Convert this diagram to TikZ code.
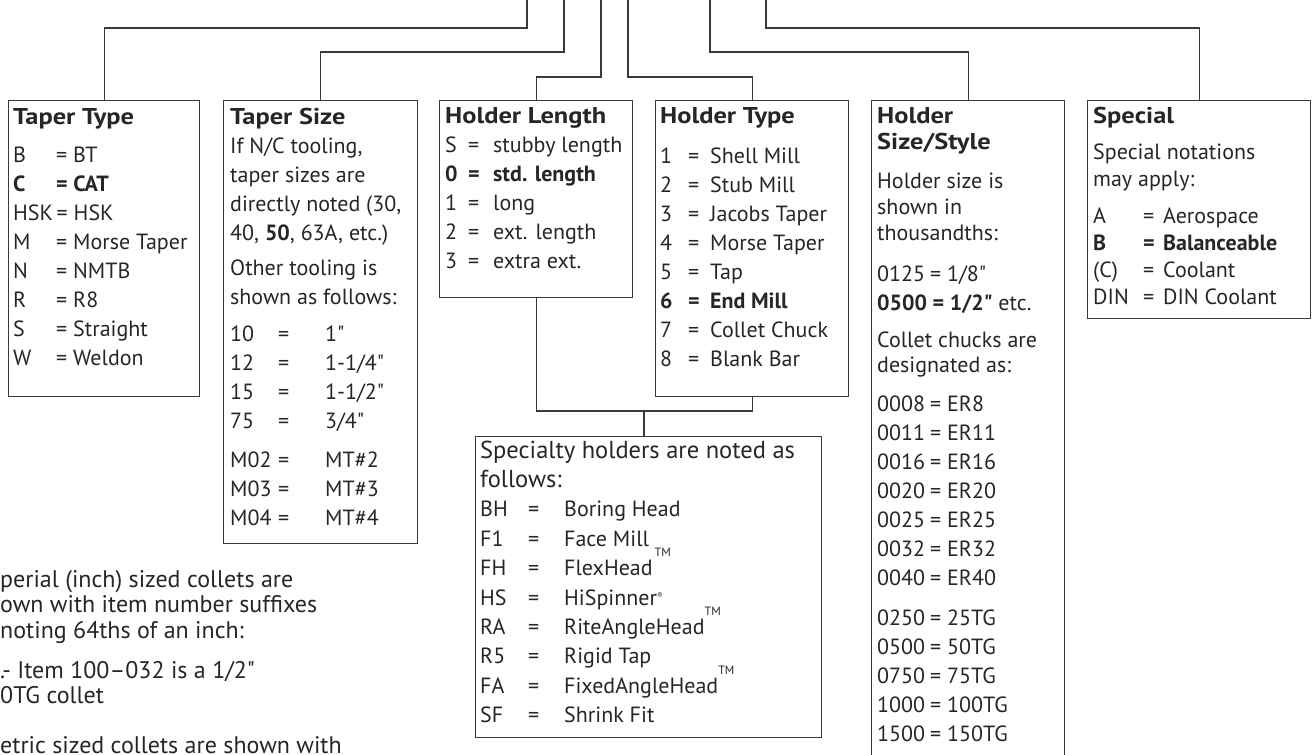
\documentclass[tikz,border=0pt]{standalone}
\usepackage{fontspec}
\setmainfont{PT Sans}[Ligatures=TeXOff]
\usepackage{array}
\usepackage{graphicx}
\usetikzlibrary{calc}

\definecolor{ink}{HTML}{262626}
\definecolor{rulegray}{HTML}{3A3A3A}

\tikzset{
    panel/.style={draw=rulegray, line width=1.2pt, inner sep=0pt, anchor=north west},
    link/.style={draw=rulegray, line width=1.2pt},
    txt/.style={inner sep=0pt, anchor=base west, text=ink, font=\fontsize{22}{29}\selectfont},
}
\newcommand{\headtext}[1]{\scalebox{1.2}[1.04]{\textbf{#1}}}
\newcommand{\tmark}{\smash{\raisebox{19pt}{\fontsize{12}{12}\selectfont TM}}}
\newcommand{\rmark}{\smash{\raisebox{7pt}{\fontsize{8}{8}\selectfont ®}}}

\begin{document}
\begin{tikzpicture}[x=1pt, y=-1pt]
        \useasboundingbox (0,0) rectangle (1312,755);
        \clip (0,0) rectangle (1312,755);

        \node[panel, minimum width=191pt, minimum height=296pt] (tapertype) at (8,100) {};
        \node[panel, minimum width=194pt, minimum height=443pt] (tapersize) at (223,100) {};
        \node[panel, minimum width=193pt, minimum height=197pt] (holderlen) at (439,100) {};
        \node[panel, minimum width=193pt, minimum height=296pt] (holdertype) at (655,100) {};
        \node[panel, minimum width=193pt, minimum height=700pt] (holdersize) at (871,100) {};
        \node[panel, minimum width=223pt, minimum height=218pt] (special) at (1087,100) {};
        \node[panel, minimum width=346pt, minimum height=301pt] (specialty) at (475,436) {};

        \coordinate (tt) at (527,0);
        \coordinate (ts) at (564,0);
        \coordinate (hl) at (601,0);
        \coordinate (ht) at (628,0);
        \coordinate (hs) at (710,0);
        \coordinate (sp) at (766,0);
        \coordinate (bar) at (644,411);

        \draw[link] (tapertype.north) -- ++(0,-72) -| (tt);
        \draw[link] (tapersize.north) -- ++(0,-48) -| (ts);
        \draw[link] (holderlen.north) -- ++(0,-23) -| (hl);
        \draw[link] (holdertype.north) -- ++(0,-23) -| (ht);
        \draw[link] (holdersize.north) -- ++(0,-48) -| (hs);
        \draw[link] (special.north) -- ++(0,-72) -| (sp);
        \draw[link] (holderlen.south) |- (bar) -| (holdertype.south);
        \draw[link] (bar) -- (bar |- specialty.north);

        \node[txt] (tapertypetext) at ($(tapertype.north west)+(5,24)$) {%
            \begin{tabular}[t]{@{}p{43pt}@{}l@{}}
            \multicolumn{2}{@{}l@{}}{\headtext{Taper Type}}\\[9pt]
            B & = BT\\
            \textbf{C} & \textbf{= CAT}\\
            \multicolumn{2}{@{}l@{}}{HSK\,= HSK}\\
            M & = Morse Taper\\
            N & = NMTB\\
            R & = R8\\
            S & = Straight\\
            W & = Weldon
            \end{tabular}};

        \node[txt] (tapersizetext) at ($(tapersize.north west)+(7,24)$) {%
            \begin{tabular}[t]{@{}p{48pt}@{}p{47pt}@{}l@{}}
            \multicolumn{3}{@{}l@{}}{\headtext{Taper Size}}\\
            \multicolumn{3}{@{}l@{}}{If N/C tooling,}\\
            \multicolumn{3}{@{}l@{}}{taper sizes are}\\
            \multicolumn{3}{@{}l@{}}{directly noted (30,}\\
            \multicolumn{3}{@{}l@{}}{40, \textbf{50}, 63A, etc.)}\\[6pt]
            \multicolumn{3}{@{}l@{}}{Other tooling is}\\
            \multicolumn{3}{@{}l@{}}{shown as follows:}\\[8pt]
            10 & = & 1"\\
            12 & = & 1-1/4"\\
            15 & = & 1-1/2"\\
            75 & = & 3/4"\\[10pt]
            M02 & = & MT\#2\\
            M03 & = & MT\#3\\
            M04 & = & MT\#4
            \end{tabular}};

        \node[txt] (holderlentext) at ($(holderlen.north west)+(6,23)$) {%
            \begin{tabular}[t]{@{}p{23pt}@{}p{25pt}@{}l@{}}
            \multicolumn{3}{@{}l@{}}{\headtext{Holder Length}}\\
            S & = & stubby length\\
            \textbf{0} & \textbf{=} & \textbf{std. length}\\
            1 & = & long\\
            2 & = & ext. length\\
            3 & = & extra ext.
            \end{tabular}};

        \node[txt] (holdertypetext) at ($(holdertype.north west)+(5,23)$) {%
            \begin{tabular}[t]{@{}p{28pt}@{}p{22pt}@{}l@{}}
            \multicolumn{3}{@{}l@{}}{\headtext{Holder Type}}\\[11pt]
            1 & = & Shell Mill\\
            2 & = & Stub Mill\\
            3 & = & Jacobs Taper\\
            4 & = & Morse Taper\\
            5 & = & Tap\\
            \textbf{6} & \textbf{=} & \textbf{End Mill}\\
            7 & = & Collet Chuck\\
            8 & = & Blank Bar
            \end{tabular}};

        \node[txt] (holdersizetext) at ($(holdersize.north west)+(6,23)$) {%
            \begin{tabular}[t]{@{}p{53pt}@{}p{17pt}@{}l@{}}
            \multicolumn{3}{@{}l@{}}{\headtext{Holder}}\\[-3pt]
            \multicolumn{3}{@{}l@{}}{\headtext{Size/Style}}\\[10pt]
            \multicolumn{3}{@{}l@{}}{Holder size is}\\[-3pt]
            \multicolumn{3}{@{}l@{}}{shown in}\\[-3pt]
            \multicolumn{3}{@{}l@{}}{thousandths:}\\[12pt]
            0125 & = & 1/8"\\
            \multicolumn{3}{@{}l@{}}{\textbf{0500 = 1/2"} etc.}\\[8pt]
            \multicolumn{3}{@{}l@{}}{Collet chucks are}\\[-4pt]
            \multicolumn{3}{@{}l@{}}{designated as:}\\[10pt]
            0008 & = & ER8\\
            0011 & = & ER11\\
            0016 & = & ER16\\
            0020 & = & ER20\\
            0025 & = & ER25\\
            0032 & = & ER32\\
            0040 & = & ER40\\[11pt]
            0250 & = & 25TG\\
            0500 & = & 50TG\\
            0750 & = & 75TG\\
            1000 & = & 100TG\\
            1500 & = & 150TG
            \end{tabular}};

        \node[txt, font=\fontsize{22}{27}\selectfont] (specialtext) at ($(special.north west)+(6,23)$) {%
            \begin{tabular}[t]{@{}p{50pt}@{}p{20pt}@{}l@{}}
            \multicolumn{3}{@{}l@{}}{\headtext{Special}}\\[9pt]
            \multicolumn{3}{@{}l@{}}{Special notations}\\
            \multicolumn{3}{@{}l@{}}{may apply:}\\[10pt]
            A & = & Aerospace\\
            \textbf{B} & \textbf{=} & \textbf{Balanceable}\\
            (C) & = & Coolant\\
            DIN & = & DIN Coolant
            \end{tabular}};

        \node[txt, font=\fontsize{22}{29.4}\selectfont] (specialtytext) at ($(specialty.north west)+(5,22)$) {%
            \begin{tabular}[t]{@{}p{48pt}@{}p{36pt}@{}l@{}}
            \multicolumn{3}{@{}l@{}}{\fontsize{24.5}{29.4}\selectfont Specialty holders are noted as}\\
            \multicolumn{3}{@{}l@{}}{\fontsize{24.5}{29.4}\selectfont follows:}\\
            BH & = & Boring Head\\
            F1 & = & Face Mill\\
            FH & = & FlexHead\hspace{2pt}\tmark\\
            HS & = & HiSpinner\rmark\\
            RA & = & RiteAngleHead\tmark\\
            R5 & = & Rigid Tap\\
            FA & = & FixedAngleHead\tmark\\
            SF & = & Shrink Fit
            \end{tabular}};

        \node[txt, font=\fontsize{24}{25.5}\selectfont] (collettext) at (0,587) {%
            \begin{tabular}[t]{@{}l@{}}
            perial (inch) sized collets are\\
            own with item number suffixes\\
            noting 64ths of an inch:\\[14.5pt]
            .- Item 100–032 is a 1/2"\\
            0TG collet\\[24.5pt]
            etric sized collets are shown with
            \end{tabular}};
    \end{tikzpicture}
\end{document}
